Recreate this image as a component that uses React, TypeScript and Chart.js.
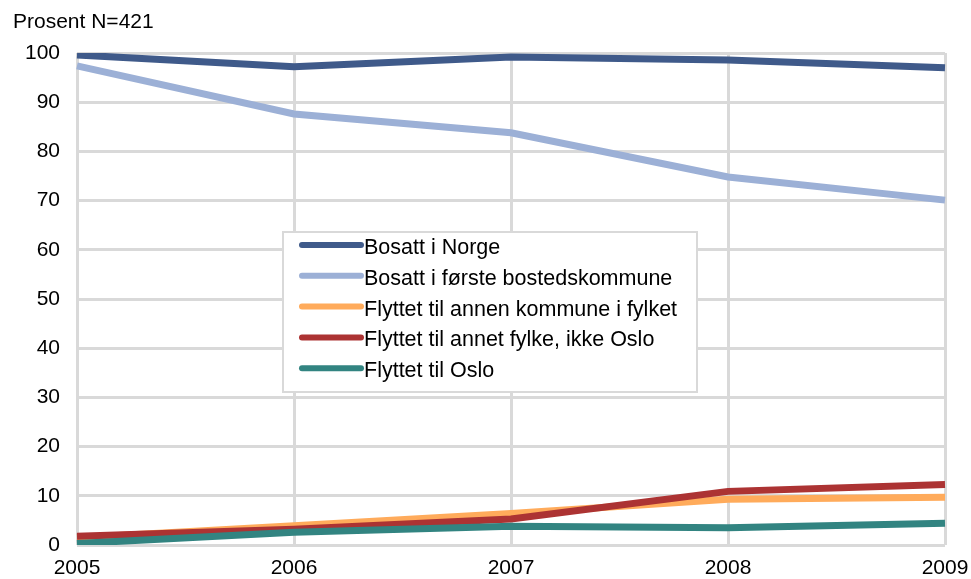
import React, { useEffect, useRef } from "react";
import { Chart, registerables } from "chart.js";

Chart.register(...registerables);

const years = ["2005", "2006", "2007", "2008", "2009"];
const bosattNorge = [99.6, 97.2, 99.2, 98.6, 97.0];
const bosattForste = [97.4, 87.6, 83.8, 74.8, 70.1];
const annenKommune = [1.5, 3.9, 6.4, 9.3, 9.7];
const annetFylke = [1.8, 3.2, 5.3, 10.9, 12.3];
const tilOslo = [0.3, 2.6, 3.8, 3.5, 4.4];

const seriesNames = [
  "Bosatt i Norge",
  "Bosatt i første bostedskommune",
  "Flyttet til annen kommune i fylket",
  "Flyttet til annet fylke, ikke Oslo",
  "Flyttet til Oslo",
];
const seriesColors = ["#3F5A8A", "#9CB0D6", "#FFAB5B", "#AC3333", "#328481"];
const yTitle = "Prosent N=421";

const FONT = "Arial, 'Liberation Sans', sans-serif";

const overlayPlugin = {
  id: "overlay",
  afterDraw(chart: any) {
    const ctx = chart.ctx;
    const area = chart.chartArea;
    ctx.save();
    // title
    ctx.fillStyle = "#000";
    ctx.font = `21px ${FONT}`;
    ctx.textBaseline = "middle";
    ctx.textAlign = "left";
    ctx.fillText(yTitle, 13, 22);

    // legend box
    const bx = area.left + 206;
    const by = area.top + 179;
    const bw = 414;
    const bh = 160;
    ctx.fillStyle = "#fff";
    ctx.fillRect(bx, by, bw, bh);
    ctx.strokeStyle = "#D9D9D9";
    ctx.lineWidth = 2;
    ctx.strokeRect(bx, by, bw, bh);

    const ds = chart.data.datasets;
    ds.forEach((d: any, i: number) => {
      const y = by + 13 + i * 30.8;
      ctx.strokeStyle = d.borderColor;
      ctx.lineWidth = 6;
      ctx.lineCap = "round";
      ctx.beginPath();
      ctx.moveTo(bx + 19, y);
      ctx.lineTo(bx + 78, y);
      ctx.stroke();
      ctx.fillStyle = "#000";
      ctx.font = `21.5px ${FONT}`;
      ctx.textBaseline = "middle";
      ctx.textAlign = "left";
      ctx.fillText(d.label, bx + 81, y + 3);
    });
    ctx.restore();
  },
};

export default function App() {
  const ref = useRef<HTMLCanvasElement | null>(null);
  useEffect(() => {
    document.body.style.margin = "0";
    const values = [bosattNorge, bosattForste, annenKommune, annetFylke, tilOslo];
    const chart = new Chart(ref.current as HTMLCanvasElement, {
      type: "line",
      data: {
        labels: years,
        datasets: values.map((v, i) => ({
          label: seriesNames[i],
          data: v,
          borderColor: seriesColors[i],
          backgroundColor: seriesColors[i],
          borderWidth: 7,
          pointRadius: 0,
          tension: 0,
          fill: false,
          order: 5 - i,
        })),
      },
      options: {
        animation: false,
        responsive: false,
        maintainAspectRatio: false,
        layout: { padding: { top: 53, right: 0, left: 0, bottom: 0 } },
        plugins: {
          legend: { display: false },
          title: { display: false },
          tooltip: { enabled: false },
        },
        scales: {
          x: {
            type: "category",
            offset: false,
            grid: { color: "#D9D9D9", lineWidth: 3, drawTicks: false },
            border: { display: false },
            ticks: {
              color: "#000",
              font: { family: FONT, size: 21 },
              padding: 11,
              maxRotation: 0,
              autoSkip: false,
            },
            afterFit(scale: any) {
              scale.height = 34;
              scale.paddingRight = 26;
              scale.paddingLeft = 0;
            },
          },
          y: {
            min: 0,
            max: 100,
            grid: { color: "#D9D9D9", lineWidth: 3, drawTicks: false },
            border: { display: false },
            ticks: {
              stepSize: 10,
              color: "#000",
              font: { family: FONT, size: 21 },
              padding: 17,
            },
            afterFit(scale: any) {
              scale.width = 77;
              scale.paddingTop = 0;
              scale.paddingBottom = 0;
            },
          },
        },
      },
      plugins: [overlayPlugin],
    });
    return () => chart.destroy();
  }, []);
  return (
    <div style={{ position: "absolute", left: 0, top: 0, width: 971, height: 579 }}>
      <canvas ref={ref} width={971} height={579} style={{ width: 971, height: 579 }} />
    </div>
  );
}
